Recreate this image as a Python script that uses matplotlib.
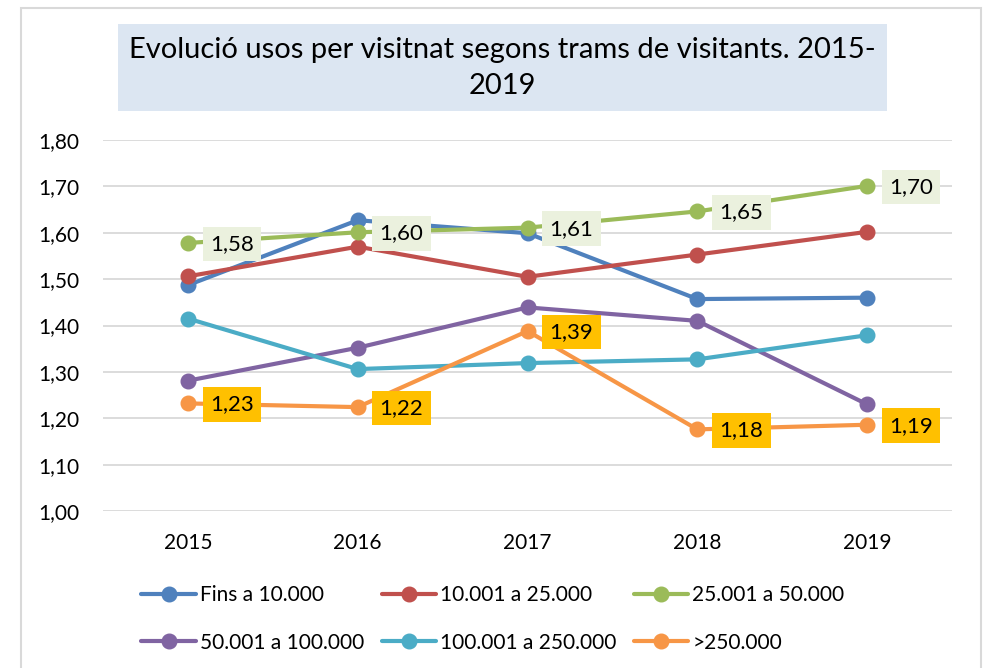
import matplotlib
matplotlib.use("Agg")
import matplotlib.pyplot as plt
from matplotlib.patches import Rectangle
from matplotlib.ticker import FuncFormatter

years = ["2015", "2016", "2017", "2018", "2019"]
series_names = ["Fins a 10.000", "10.001 a 25.000", "25.001 a 50.000",
                "50.001 a 100.000", "100.001 a 250.000", ">250.000"]
fins_10k = [1.487, 1.627, 1.599, 1.457, 1.460]
de_10k_25k = [1.506, 1.570, 1.505, 1.553, 1.602]
de_25k_50k = [1.578, 1.601, 1.611, 1.646, 1.701]
de_50k_100k = [1.281, 1.352, 1.439, 1.410, 1.230]
de_100k_250k = [1.415, 1.306, 1.319, 1.327, 1.379]
mes_250k = [1.232, 1.224, 1.388, 1.176, 1.186]

all_series = [fins_10k, de_10k_25k, de_25k_50k, de_50k_100k, de_100k_250k, mes_250k]
colors = ["#4F81BD", "#C0504D", "#9BBB59", "#8064A2", "#4BACC6", "#F79646"]
# which series get value labels, and the label background
label_bg = {2: "#EBF1DE", 5: "#FFC000"}

DPI = 100
W, H = 986, 668
plt.rcParams["font.family"] = ["Lato", "DejaVu Sans"]

fig = plt.figure(figsize=(W / DPI, H / DPI), dpi=DPI)
ax = fig.add_axes([103 / W, 1 - 511 / H, (952 - 103) / W, (511 - 140) / H])

x = list(range(len(years)))
for i, (vals, col, name) in enumerate(zip(all_series, colors, series_names)):
    ax.plot(x, vals, color=col, lw=3.0, marker="o", ms=10.5, label=name,
            solid_capstyle="round", zorder=3 + i)

# value labels to the right of the points
px = 72 / DPI
for i, bg in label_bg.items():
    for xi, v in zip(x, all_series[i]):
        ax.annotate(f"{v:.2f}".replace(".", ","), (xi, v),
                    xytext=(22 * px, -1 * px), textcoords="offset points",
                    ha="left", va="center", fontsize=16, color="black",
                    bbox=dict(boxstyle="square,pad=0.33", fc=bg, ec="none"),
                    zorder=20)

ax.set_xlim(-0.5, len(years) - 0.5)
ax.set_ylim(1.0, 1.8)
ax.set_yticks([1.0 + 0.1 * k for k in range(9)])
ax.yaxis.set_major_formatter(FuncFormatter(lambda v, p: f"{v:.2f}".replace(".", ",")))
ax.set_xticks(x)
ax.set_xticklabels(years)
ax.tick_params(axis="y", length=0, pad=17, labelsize=15)
ax.tick_params(axis="x", length=0, pad=16, labelsize=15)
ax.grid(axis="y", color="#D9D9D9", lw=1.3)
ax.set_axisbelow(True)
for s in ax.spines.values():
    s.set_visible(False)

# outer chart frame
fig.add_artist(Rectangle((21 / W, -0.05), (981 - 21) / W, 1.05 - 8 / H,
                         transform=fig.transFigure, fill=False,
                         ec="#D9D9D9", lw=1.5))

# title box
fig.add_artist(Rectangle((118 / W, 1 - 111 / H), (887 - 118) / W, (111 - 24) / H,
                         transform=fig.transFigure, fc="#DCE6F2", ec="none"))
fig.text(502 / W, 1 - 68 / H,
         "Evolució usos per visitnat segons trams de visitants. 2015-\n2019",
         ha="center", va="center", fontsize=21, linespacing=1.45)

# legend: three columns, filled row by row
handles, labels = ax.get_legend_handles_labels()
order = [0, 3, 1, 4, 2, 5]
fig.legend([handles[k] for k in order], [labels[k] for k in order],
           ncol=3, loc="center", bbox_to_anchor=(0.5, 1 - 619 / H),
           frameon=False, fontsize=15, handlelength=2.6, handletextpad=0.2,
           columnspacing=0.85, labelspacing=1.3)

fig.savefig("out.png", dpi=DPI)
